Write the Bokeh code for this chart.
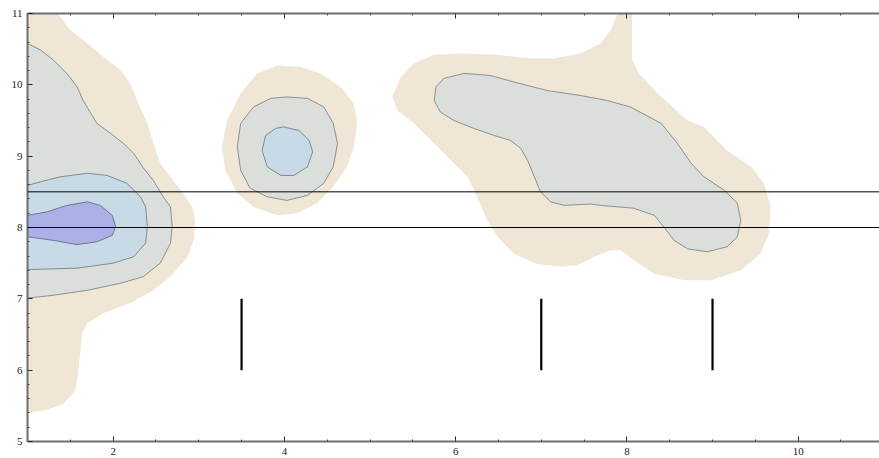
from bokeh.plotting import figure
from bokeh.models import SingleIntervalTicker, LinearAxis, Span, CustomJSTickFormatter
from bokeh.embed import file_html
from bokeh.resources import INLINE

# ---- density contour regions (x, y) per level, outermost first ----
# level 1 (lowest density band)
left_lvl1 = [(1.0, 11.0), (1.35, 11.0), (1.50, 10.77), (1.70, 10.58), (1.89, 10.39), (2.09, 10.20),
             (2.20, 10.02), (2.28, 9.78), (2.40, 9.46), (2.47, 9.18), (2.55, 8.90), (2.70, 8.66),
             (2.82, 8.48), (2.92, 8.29), (2.96, 8.10), (2.94, 7.82), (2.87, 7.59), (2.67, 7.31),
             (2.47, 7.12), (2.20, 6.94), (1.89, 6.80), (1.70, 6.66), (1.64, 6.52), (1.62, 6.28),
             (1.59, 5.96), (1.56, 5.72), (1.42, 5.53), (1.23, 5.44), (1.03, 5.41), (1.0, 5.41)]
mid_lvl1 = [(3.92, 10.27), (4.19, 10.25), (4.42, 10.16), (4.66, 9.97), (4.81, 9.74), (4.85, 9.46),
            (4.81, 9.13), (4.73, 8.85), (4.57, 8.57), (4.38, 8.34), (4.15, 8.20), (3.92, 8.17),
            (3.64, 8.29), (3.45, 8.48), (3.31, 8.80), (3.27, 9.13), (3.33, 9.50), (3.49, 9.88),
            (3.68, 10.16)]
right_lvl1 = [(5.26, 9.83), (5.36, 10.11), (5.51, 10.30), (5.75, 10.42), (6.10, 10.44), (6.49, 10.42),
              (6.88, 10.37), (7.15, 10.37), (7.46, 10.44), (7.69, 10.58), (7.81, 10.77), (7.89, 11.0),
              (8.06, 11.0), (8.06, 10.35), (8.14, 10.16), (8.36, 9.88), (8.71, 9.50), (8.90, 9.41),
              (9.17, 9.08), (9.45, 8.85), (9.60, 8.62), (9.68, 8.29), (9.66, 7.92), (9.56, 7.63),
              (9.33, 7.40), (8.98, 7.26), (8.67, 7.26), (8.32, 7.35), (8.08, 7.54), (7.93, 7.68),
              (7.81, 7.68), (7.62, 7.59), (7.42, 7.47), (7.23, 7.45), (6.95, 7.49), (6.68, 7.63),
              (6.49, 7.87), (6.37, 8.10), (6.25, 8.43), (6.14, 8.71), (5.98, 8.90), (5.75, 9.18),
              (5.51, 9.46), (5.32, 9.64)]

# level 2
left_lvl2 = [(1.0, 10.58), (1.15, 10.49), (1.30, 10.35), (1.46, 10.16), (1.58, 9.97), (1.65, 9.78),
             (1.74, 9.60), (1.81, 9.46), (1.97, 9.32), (2.12, 9.18), (2.24, 9.04), (2.35, 8.84),
             (2.47, 8.66), (2.59, 8.42), (2.67, 8.29), (2.69, 8.01), (2.67, 7.78), (2.55, 7.50),
             (2.35, 7.31), (2.09, 7.22), (1.70, 7.12), (1.30, 7.05), (1.0, 7.01)]
mid_lvl2 = [(4.03, 9.83), (4.27, 9.81), (4.46, 9.69), (4.57, 9.46), (4.62, 9.18), (4.57, 8.85),
            (4.46, 8.62), (4.27, 8.45), (4.03, 8.38), (3.80, 8.43), (3.60, 8.55), (3.49, 8.80),
            (3.45, 9.13), (3.49, 9.46), (3.64, 9.69), (3.84, 9.81)]
right_lvl2 = [(5.77, 9.97), (5.86, 10.09), (6.10, 10.16), (6.41, 10.13), (6.68, 10.04), (7.07, 9.92),
              (7.46, 9.85), (7.77, 9.78), (8.04, 9.69), (8.40, 9.46), (8.59, 9.18), (8.75, 8.90),
              (8.90, 8.71), (9.14, 8.52), (9.29, 8.34), (9.33, 8.10), (9.29, 7.87), (9.17, 7.73),
              (8.94, 7.66), (8.71, 7.70), (8.55, 7.82), (8.43, 8.01), (8.32, 8.17), (8.08, 8.27),
              (7.69, 8.31), (7.58, 8.33), (7.27, 8.31), (7.11, 8.36), (6.99, 8.50), (6.92, 8.71),
              (6.84, 8.94), (6.76, 9.11), (6.64, 9.22), (6.45, 9.29), (6.21, 9.39), (5.98, 9.50),
              (5.82, 9.62), (5.75, 9.78)]

# level 3
left_lvl3 = [(1.0, 8.59), (1.15, 8.64), (1.38, 8.71), (1.70, 8.76), (1.93, 8.73), (2.16, 8.62),
             (2.32, 8.43), (2.38, 8.29), (2.40, 8.01), (2.38, 7.78), (2.24, 7.59), (2.00, 7.50),
             (1.58, 7.43), (1.0, 7.41)]
mid_lvl3 = [(3.99, 9.41), (4.17, 9.36), (4.29, 9.22), (4.33, 9.06), (4.27, 8.85), (4.11, 8.73),
            (3.96, 8.73), (3.80, 8.85), (3.74, 9.08), (3.78, 9.29), (3.90, 9.39)]

# level 4 (peak)
left_lvl4 = [(1.0, 8.17), (1.23, 8.22), (1.46, 8.31), (1.70, 8.36), (1.85, 8.31), (1.99, 8.17),
             (2.03, 8.01), (1.99, 7.89), (1.81, 7.80), (1.58, 7.76), (1.30, 7.82), (1.0, 7.87)]

levels = [
    ([left_lvl1, mid_lvl1, right_lvl1], "#efe6d6", None),
    ([left_lvl2, mid_lvl2, right_lvl2], "#dadfdc", "#8c908f"),
    ([left_lvl3, mid_lvl3], "#c9dae7", "#7f8a93"),
    ([left_lvl4], "#abb1e7", "#6e7590"),
]

# reference lines and markers
h_lines = [8.0, 8.5]
bar_x = [3.5, 7.0, 9.0]
bar_y0 = [6.0, 6.0, 6.0]
bar_y1 = [7.0, 7.0, 7.0]

x_start, x_end = 1.0, 10.95
y_start, y_end = 5.0, 11.0

p = figure(width=879, height=458, x_range=(x_start, x_end), y_range=(y_start, y_end),
           output_backend="svg", toolbar_location=None,
           min_border_left=27, min_border_right=0, min_border_top=13, min_border_bottom=17,
           background_fill_color="white", border_fill_color="white")
p.outline_line_color = None
p.grid.visible = False

for regions, fill, line in levels:
    xs = [[pt[0] for pt in r] for r in regions]
    ys = [[pt[1] for pt in r] for r in regions]
    if line is None:
        p.patches(xs, ys, fill_color=fill, line_color=None)
    else:
        p.patches(xs, ys, fill_color=fill, line_color=line, line_width=1)

for yv in h_lines:
    p.add_layout(Span(location=yv, dimension="width", line_color="black", line_width=1))

p.segment(x0=bar_x, y0=bar_y0, x1=bar_x, y1=bar_y1, line_color="black", line_width=2.2)

font = "Liberation Serif"

def style(ax):
    ax.axis_line_color = "#6e6e6e"
    ax.axis_line_width = 2
    ax.major_tick_in = 5
    ax.major_tick_out = 0
    ax.minor_tick_in = 2
    ax.minor_tick_out = 0
    ax.major_tick_line_color = "#222222"
    ax.minor_tick_line_color = "#444444"
    ax.major_label_text_font = font
    ax.major_label_text_font_size = "11px"
    ax.major_label_text_color = "#222222"

xt = SingleIntervalTicker(interval=2, num_minor_ticks=4)
yt = SingleIntervalTicker(interval=1, num_minor_ticks=5)

p.xaxis.ticker = xt
p.yaxis.ticker = yt
style(p.xaxis[0])
style(p.yaxis[0])
p.xaxis.major_label_standoff = 6
p.yaxis.major_label_standoff = 5

top = LinearAxis(ticker=SingleIntervalTicker(interval=2, num_minor_ticks=4),
                 formatter=CustomJSTickFormatter(code="return ''"))
style(top)
top.major_label_standoff = 0
p.add_layout(top, "above")

open("out.html", "w").write(file_html(p, INLINE))
